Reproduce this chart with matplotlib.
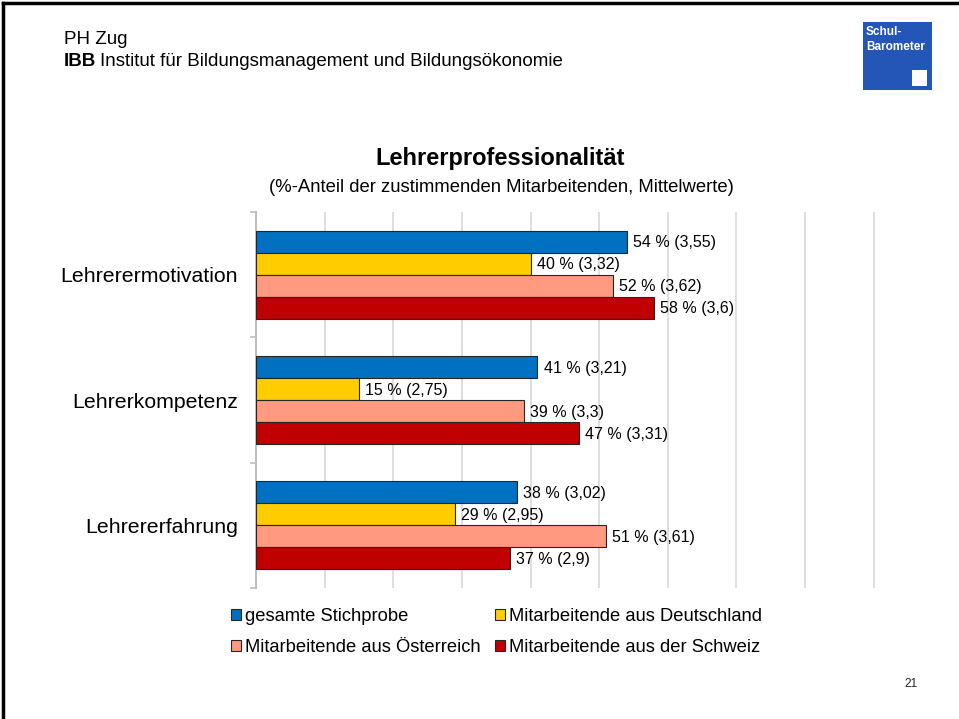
import numpy as np
import matplotlib.pyplot as plt
from matplotlib.patches import Rectangle
from matplotlib.lines import Line2D

categories = ['Lehrerermotivation', 'Lehrerkompetenz', 'Lehrererfahrung']
series = ['gesamte Stichprobe', 'Mitarbeitende aus Deutschland',
          'Mitarbeitende aus Österreich', 'Mitarbeitende aus der Schweiz']
percent = [[54, 41, 38],
           [40, 15, 29],
           [52, 39, 51],
           [58, 47, 37]]
means = [['3,55', '3,21', '3,02'],
         ['3,32', '2,75', '2,95'],
         ['3,62', '3,3', '3,61'],
         ['3,6', '3,31', '2,9']]
colors = ['#0070C0', '#FFCC00', '#FF9980', '#C00000']

plt.rcParams['font.family'] = ['Liberation Sans', 'DejaVu Sans']

W, H = 959, 719
fig = plt.figure(figsize=(W / 100, H / 100), dpi=100)

def fx(px):
    return px / W

def fy(py):
    return 1 - py / H

# slide frame (top and left only)
fig.add_artist(Line2D([fx(2.5), fx(2.5)], [fy(2.5), 0], color='black', lw=2.5))
fig.add_artist(Line2D([fx(2.5), 1], [fy(2.5), fy(2.5)], color='black', lw=2.5))

# header
fig.text(fx(64), fy(40), 'PH Zug', fontsize=13.5, va='center')
t = fig.text(fx(64), fy(62), 'IBB', fontsize=13.5, weight='bold', va='center')
fig.canvas.draw()
bb = t.get_window_extent()
fig.text(bb.x1 / W + fx(4), fy(62), 'Institut für Bildungsmanagement und Bildungsökonomie',
         fontsize=13.5, va='center')

# logo
fig.add_artist(Rectangle((fx(863), fy(90)), fx(69), 68 / H, facecolor='#2456B8',
                         edgecolor='none', transform=fig.transFigure))
fig.add_artist(Rectangle((fx(912), fy(86)), fx(15), 16 / H, facecolor='white',
                         edgecolor='none', transform=fig.transFigure))
fig.text(fx(866), fy(32), 'Schul-', color='white', fontsize=8.5, weight='bold', va='center')
fig.text(fx(866), fy(47), 'Barometer', color='white', fontsize=8.5, weight='bold', va='center')

# titles
fig.text(fx(500), fy(158), 'Lehrerprofessionalität', fontsize=17, weight='bold',
         ha='center', va='center')
fig.text(fx(501), fy(187), '(%-Anteil der zustimmenden Mitarbeitenden, Mittelwerte)',
         fontsize=13.3, ha='center', va='center')
fig.text(fx(911), fy(684), '21', fontsize=8.5, ha='center', va='center', color='#222222')

ax = fig.add_axes([fx(256), fy(588), 619 / W, 376 / H])
n = len(categories)
centers = np.arange(n)[::-1] + 0.5
h = 22 / (376 / n)
handles = []
for i, name in enumerate(series):
    y = centers + (1.5 - i) * h
    b = ax.barh(y, percent[i], height=h, color=colors[i], edgecolor='#262626',
                linewidth=0.8, zorder=3, label=name)
    handles.append(b)
    for yy, v, m in zip(y, percent[i], means[i]):
        ax.text(v + 0.9, yy - 0.01, f'{v} % ({m})', fontsize=11.5, va='center', ha='left',
                zorder=4)

ax.set_xlim(0, 90.2)
ax.set_ylim(0, n)
ax.set_xticks(np.arange(0, 91, 10))
ax.tick_params(axis='x', length=0, labelbottom=False)
ax.grid(axis='x', color='#D9D9D9', lw=1.2, zorder=0)
ax.set_yticks(np.arange(0, n + 1))
ax.set_yticklabels([])
ax.tick_params(axis='y', which='major', length=4, width=1.2, color='#BFBFBF')
ax.set_yticks(centers, minor=True)
ax.set_yticklabels(categories, minor=True, fontsize=15.3)
ax.tick_params(axis='y', which='minor', length=0, pad=13)
for s in ['top', 'right', 'bottom']:
    ax.spines[s].set_visible(False)
ax.spines['left'].set_color('#BFBFBF')
ax.spines['left'].set_linewidth(1.5)

order = [0, 2, 1, 3]
fig.legend([handles[k] for k in order], [series[k] for k in order], ncol=2,
           loc='upper left', bbox_to_anchor=(fx(231), fy(608)), frameon=False,
           fontsize=13.2, handlelength=0.55, handleheight=0.55, handletextpad=0.2,
           columnspacing=0.8, labelspacing=0.75, borderaxespad=0, borderpad=0)

fig.savefig('out.png', dpi=100)
